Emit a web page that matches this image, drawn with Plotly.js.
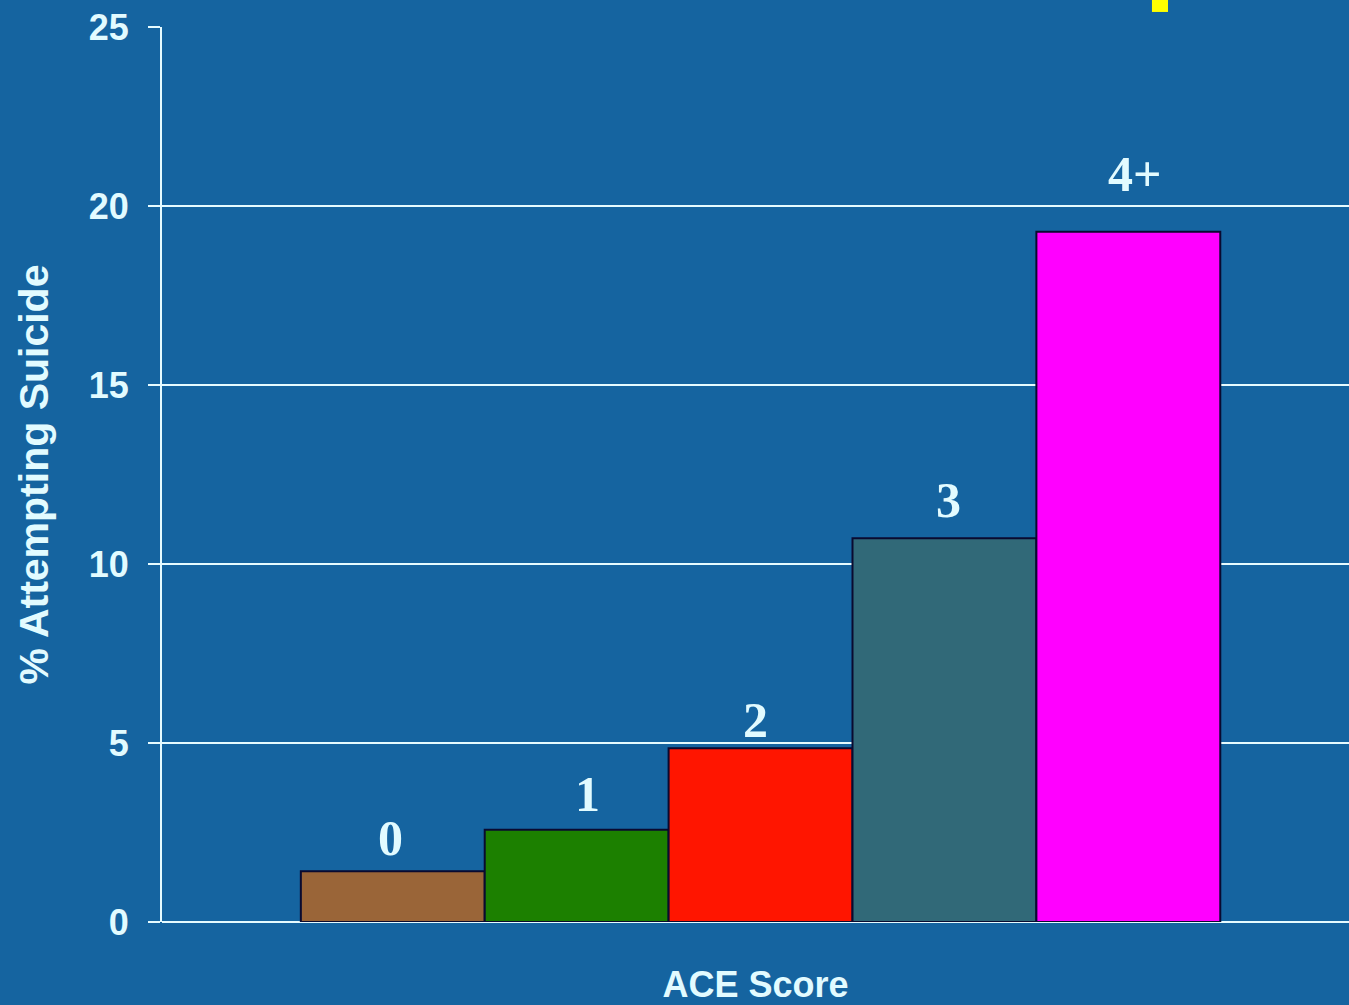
<!DOCTYPE html>
<html>
<head>
<meta charset="utf-8">
<script src="https://cdn.plot.ly/plotly-3.0.1.min.js"></script>
<style>
html,body{margin:0;padding:0;background:#1564a0;}
#chart{width:1349px;height:1005px;}
</style>
</head>
<body>
<div id="chart"></div>
<script>
const categories = ["0", "1", "2", "3", "4+"];
const percentAttempting = [1.42, 2.58, 4.85, 10.72, 19.28];
const barColors = ["#9a6538", "#1c8000", "#ff1500", "#316978", "#ff00ff"];
const yTicks = [0, 5, 10, 15, 20, 25];

// per-label nudges to mimic the original slide's hand-placed labels (pixels)
const labelXShift = [-2, 11, -5, 4, 7];
const labelYShift = [3, 6, -2, 8, 28];

const textColor = "#e2fbff";
const bg = "#1564a0";
const sansFont = "Liberation Sans, Arial, sans-serif";

const trace = {
  type: "bar",
  x: categories,
  y: percentAttempting,
  width: 1,
  marker: {color: barColors, line: {color: "#0a0a30", width: 2}},
  hoverinfo: "x+y"
};

const annotations = categories.map((c, i) => ({
  x: c, y: percentAttempting[i], xref: "x", yref: "y",
  text: c, showarrow: false, yanchor: "bottom",
  yshift: labelYShift[i], xshift: labelXShift[i],
  font: {family: "Liberation Serif, Times New Roman, serif", size: 50, color: textColor, weight: "bold"}
}));

const layout = {
  width: 1349, height: 1005,
  paper_bgcolor: bg, plot_bgcolor: bg,
  margin: {l: 162, r: 0, t: 27, b: 83},
  showlegend: false,
  bargap: 0,
  xaxis: {
    type: "category",
    range: [-1.255, 5.2],
    showticklabels: false, ticks: "", showgrid: false, zeroline: false,
    showline: false,
    title: {text: "ACE Score", standoff: 58,
      font: {family: sansFont, size: 36, color: textColor, weight: "bold"}}
  },
  yaxis: {
    range: [0, 25], tickvals: yTicks, ticktext: yTicks.map(String),
    showgrid: true, gridcolor: "#e6fbff", gridwidth: 2,
    zeroline: true, zerolinecolor: "#e6fbff", zerolinewidth: 2,
    showline: true, linecolor: "#e6fbff", linewidth: 2,
    ticks: "outside", ticklen: 12, tickwidth: 2, tickcolor: "#e6fbff",
    ticklabelstandoff: 12,
    tickfont: {family: sansFont, size: 36, color: textColor, weight: "bold"},
    title: {text: "% Attempting Suicide", standoff: 27,
      font: {family: sansFont, size: 41, color: textColor, weight: "bold"}}
  },
  annotations: annotations,
  shapes: [{type: "rect", xref: "paper", yref: "paper", x0: 0.834, x1: 0.8475, y0: 1.0168, y1: 1.031,
    fillcolor: "#ffff00", line: {width: 0}, layer: "above"}]
};

Plotly.newPlot("chart", [trace], layout, {displayModeBar: false, staticPlot: true});
</script>
</body>
</html>
